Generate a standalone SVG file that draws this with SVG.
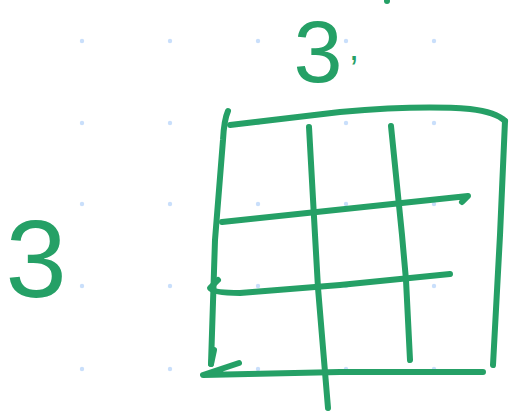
<svg xmlns="http://www.w3.org/2000/svg" width="509" height="414" viewBox="0 0 509 414">
<defs>
<style>
.dot{fill:#c9dffb}
.ink{fill:none;stroke:#25a066;stroke-width:6;stroke-linecap:round;stroke-linejoin:round}
.hand{fill:#25a066;font-family:"Liberation Sans",Arial,sans-serif}
</style>
</defs>
<rect width="509" height="414" fill="#ffffff"/>
<g id="dot-grid">
<circle class="dot" cx="82" cy="41" r="2.2"/><circle class="dot" cx="170" cy="41" r="2.2"/><circle class="dot" cx="258" cy="41" r="2.2"/><circle class="dot" cx="346" cy="41" r="2.2"/><circle class="dot" cx="434" cy="41" r="2.2"/>
<circle class="dot" cx="82" cy="123" r="2.2"/><circle class="dot" cx="170" cy="123" r="2.2"/><circle class="dot" cx="258" cy="123" r="2.2"/><circle class="dot" cx="346" cy="123" r="2.2"/><circle class="dot" cx="434" cy="123" r="2.2"/>
<circle class="dot" cx="82" cy="204" r="2.2"/><circle class="dot" cx="170" cy="204" r="2.2"/><circle class="dot" cx="258" cy="204" r="2.2"/><circle class="dot" cx="346" cy="204" r="2.2"/><circle class="dot" cx="434" cy="204" r="2.2"/>
<circle class="dot" cx="82" cy="286" r="2.2"/><circle class="dot" cx="170" cy="286" r="2.2"/><circle class="dot" cx="258" cy="286" r="2.2"/><circle class="dot" cx="346" cy="286" r="2.2"/><circle class="dot" cx="434" cy="286" r="2.2"/>
<circle class="dot" cx="82" cy="369" r="2.2"/><circle class="dot" cx="170" cy="369" r="2.2"/><circle class="dot" cx="258" cy="369" r="2.2"/><circle class="dot" cx="346" cy="369" r="2.2"/><circle class="dot" cx="434" cy="369" r="2.2"/>
</g>
<g id="label-top">
<text class="hand" x="318" y="82" font-size="88" text-anchor="middle">3</text>
<text class="hand" x="349" y="60" font-size="36">,</text>
</g>
<g id="label-left">
<text class="hand" x="36" y="297" font-size="110" text-anchor="middle">3</text>
</g>
<g id="stray-mark">
<circle cx="387" cy="1" r="3" fill="#25a066"/>
</g>
<g id="connectors">
<path class="ink" d="M228,111 Q224,120 223,140 L215,240 L211,364"/>
<path class="ink" d="M214,350 L211,364"/>
<path class="ink" d="M230,125 L340,112 Q420,105 470,109 Q496,112 505,121"/>
<path class="ink" d="M505,121 L500,235 L493,365"/>
<path class="ink" d="M309,127 L315,235 L318,288 L328,408"/>
<path class="ink" d="M391,126 L402,235 L406,280 L410,360"/>
<path class="ink" d="M222,222 L468,196 L462,202"/>
<path class="ink" d="M218,280 L210,288 Q213,293 240,293 L340,285 L450,274"/>
<path class="ink" d="M239,363 L203,375 L340,372 L483,372"/>
</g>
</svg>
